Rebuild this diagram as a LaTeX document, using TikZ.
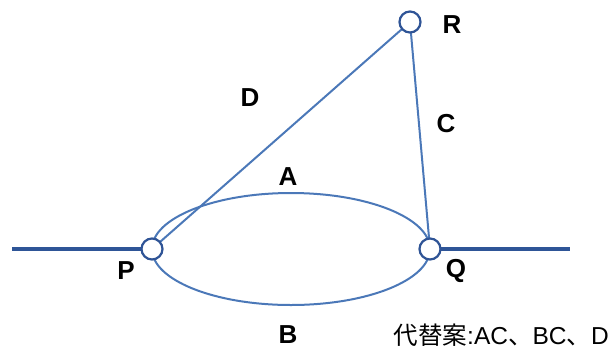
\documentclass[tikz,border=0pt]{standalone}
\usepackage{fontspec}
\setmainfont{Liberation Sans}
\newfontfamily\cjk{Noto Sans CJK JP}
\definecolor{thinblue}{HTML}{4B78B8}
\definecolor{thickblue}{HTML}{2E5597}
\definecolor{ringblue}{HTML}{2F5496}
\begin{document}
\begin{tikzpicture}[x=1pt,y=-1pt,
  thinline/.style={draw=thinblue,line width=2pt},
  thickline/.style={draw=thickblue,line width=4.5pt},
  vertex/.style={circle,draw=ringblue,fill=white,line width=2.2pt,minimum size=21pt,inner sep=0pt},
  lbl/.style={font=\fontsize{26}{26}\selectfont\bfseries,text=black,inner sep=0pt}]
\useasboundingbox (0,0) rectangle (616,354);
\coordinate (L) at (12,249);
\coordinate (Rt) at (570,249);
\coordinate (P0) at (152,249);
\coordinate (Q0) at (430,249);
\draw[thinline] (291,249) ellipse (139 and 56);
\draw[thickline] (L) -- (P0);
\draw[thickline] (Q0) -- (Rt);
\coordinate (R0) at (410,22);
\draw[thinline] (P0) -- (R0);
\draw[thinline] (Q0) -- (R0);
\node[vertex] (P) at (P0) {};
\node[vertex] (Q) at (Q0) {};
\node[vertex] (R) at (R0) {};
\node[lbl] (lP) at (126,271) {P};
\node[lbl] (lQ) at (456,271) {Q};
\node[lbl] (lR) at (452,25) {R};
\node[lbl] (lD) at (250,98) {D};
\node[lbl] (lC) at (446,124) {C};
\node[lbl] (lA) at (288,177) {A};
\node[lbl] (lB) at (288,335) {B};
\node[anchor=east,inner sep=0pt,font=\fontsize{24.5}{24.5}\selectfont] (alt) at (609,335) {{\cjk 代替案}:AC{\cjk 、}BC{\cjk 、}D};
\end{tikzpicture}
\end{document}
